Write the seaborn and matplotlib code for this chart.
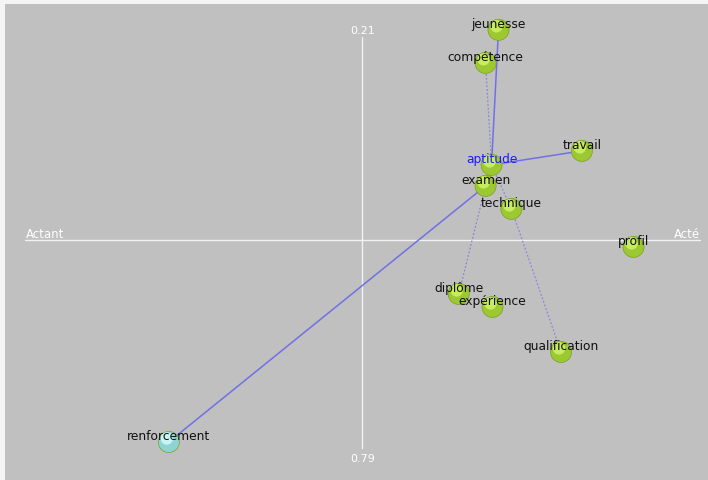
import numpy as np
import pandas as pd
import matplotlib
matplotlib.use("Agg")
import matplotlib.pyplot as plt
import seaborn as sns

# coordonnées des mots sur le plan factoriel
mots = ['jeunesse', 'compétence', 'aptitude', 'travail', 'examen', 'technique',
        'profil', 'diplôme', 'expérience', 'qualification', 'renforcement']
axe_x = [1.37, 1.24, 1.30, 2.21, 1.24, 1.50, 2.73, 0.97, 1.31, 2.00, -1.95]
axe_y = [2.10, 1.77, 0.75, 0.89, 0.54, 0.31, -0.07, -0.54, -0.67, -1.12, -2.02]
groupe = ['acte'] * 10 + ['actant']

# liens entre les mots (plein / pointillé)
liens_pleins = [('jeunesse', 'aptitude'), ('aptitude', 'travail'), ('examen', 'renforcement')]
liens_pointilles = [('compétence', 'aptitude'), ('aptitude', 'technique'),
                    ('examen', 'diplôme'), ('technique', 'qualification')]

libelle_haut, libelle_bas = '0.21', '0.79'
libelle_gauche, libelle_droite = 'Actant', 'Acté'

df = pd.DataFrame({'mot': mots, 'x': axe_x, 'y': axe_y, 'groupe': groupe})
pos = df.set_index('mot')[['x', 'y']]

sns.set_style('white')
plt.rcParams['font.family'] = ['DejaVu Sans']

fig = plt.figure(figsize=(7.08, 4.81), dpi=100)
fig.patch.set_facecolor('#f4f4f4')
ax = fig.add_axes([0.007, 0, 0.993, 0.99])
ax.set_facecolor('#c0c0c0')
ax.set_xlim(-3.60, 3.48)
ax.set_ylim(-2.40, 2.36)
for s in ax.spines.values():
    s.set_visible(False)
ax.set_xticks([])
ax.set_yticks([])

# axes blancs
ax.plot([-3.40, 3.40], [0, 0], color='#f2f2f2', lw=1.0, zorder=1)
ax.plot([0, 0], [-2.08, 2.03], color='#f2f2f2', lw=1.0, zorder=1)
ax.text(0, 2.10, libelle_haut, color='white', ha='center', va='center', fontsize=8)
ax.text(0, -2.18, libelle_bas, color='white', ha='center', va='center', fontsize=8)
ax.text(-3.20, 0.06, libelle_gauche, color='white', ha='center', va='center', fontsize=8.5)
ax.text(3.27, 0.06, libelle_droite, color='white', ha='center', va='center', fontsize=8.5)

for a, b in liens_pleins:
    ax.plot([pos.loc[a, 'x'], pos.loc[b, 'x']], [pos.loc[a, 'y'], pos.loc[b, 'y']],
            color='#7070e4', lw=1.1, zorder=2)
for a, b in liens_pointilles:
    ax.plot([pos.loc[a, 'x'], pos.loc[b, 'x']], [pos.loc[a, 'y'], pos.loc[b, 'y']],
            color='#8888dc', lw=0.9, ls=(0, (1.5, 1.5)), zorder=2)

# sphères
sns.scatterplot(data=df, x='x', y='y', hue='groupe',
                palette={'acte': '#9cc832', 'actant': '#8fd4d4'},
                s=230, edgecolor='#7aa020', linewidth=0.5, legend=False, ax=ax, zorder=3)
sns.scatterplot(data=df, x=df['x'] - 0.02, y=df['y'] + 0.035, hue='groupe',
                palette={'acte': '#c8ec60', 'actant': '#c8f4f4'},
                s=80, linewidth=0, legend=False, ax=ax, zorder=4)
ax.set_xlabel('')
ax.set_ylabel('')

for _, r in df.iterrows():
    couleur = '#1a1aff' if r['mot'] == 'aptitude' else '#101010'
    ax.text(r['x'], r['y'] + 0.06, r['mot'], color=couleur, ha='center', va='center',
            fontsize=8.8, zorder=5)

fig.savefig('out.png', dpi=100)
